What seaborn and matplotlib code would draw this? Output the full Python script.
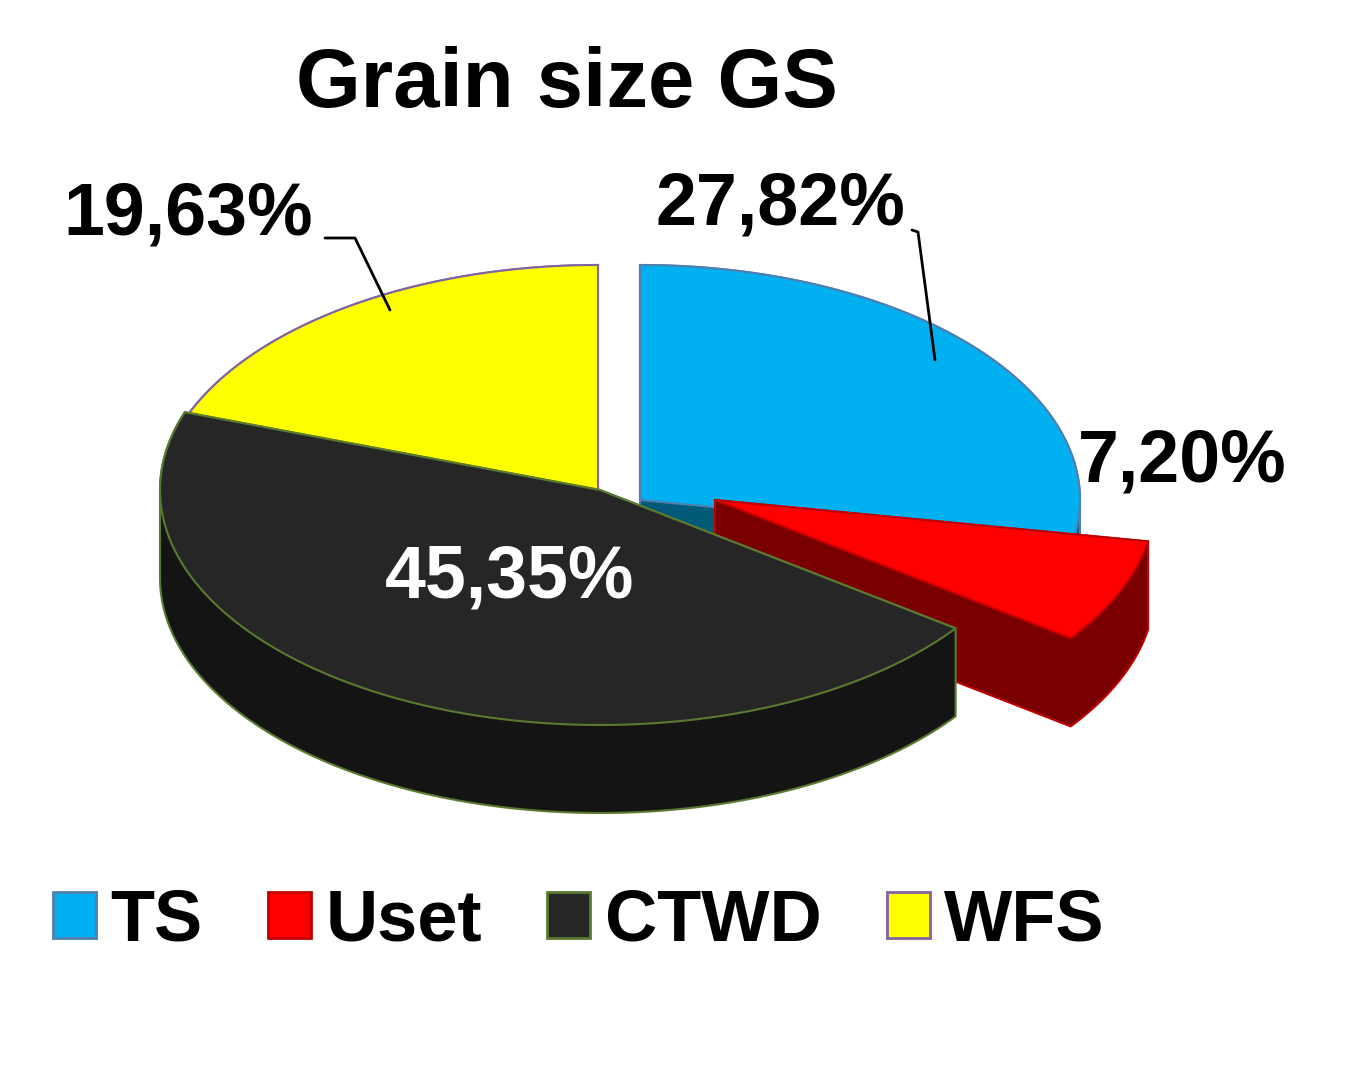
import numpy as np
import matplotlib
matplotlib.use('Agg')
import matplotlib.pyplot as plt
from matplotlib.patches import Polygon, Patch
import seaborn as sns

sns.set_style('white')
plt.rcParams['font.family'] = ['Liberation Sans', 'DejaVu Sans']
plt.rcParams['text.color'] = 'black'

labels = ['TS', 'Uset', 'CTWD', 'WFS']
values = [27.82, 7.20, 45.35, 19.63]
top_colors = ['#00b0f0', '#ff0000', '#262626', '#ffff00']
side_colors = ['#005a78', '#7a0000', '#141414', '#6e6e00']
edge_colors = ['#4f7fb0', '#c00000', '#5a7a30', '#8064a2']
explode = [(20, 10), (95, 10), (-20, 0), (-22, 10)]

CX, CY, RX, RY, DEPTH = 620, 490, 440, 235, 88


def hull(pts):
    pts = sorted(set(map(tuple, pts)))
    def cross(o, a, b):
        return (a[0]-o[0])*(b[1]-o[1]) - (a[1]-o[1])*(b[0]-o[0])
    lower, upper = [], []
    for p in pts:
        while len(lower) >= 2 and cross(lower[-2], lower[-1], p) <= 0:
            lower.pop()
        lower.append(p)
    for p in reversed(pts):
        while len(upper) >= 2 and cross(upper[-2], upper[-1], p) <= 0:
            upper.pop()
        upper.append(p)
    return np.array(lower[:-1] + upper[:-1])


fig = plt.figure(figsize=(13.46, 10.84), dpi=100)
ax = fig.add_axes([0, 0, 1, 1])
ax.set_xlim(0, 1346)
ax.set_ylim(1084, 0)
ax.axis('off')

fracs = np.array(values) / sum(values)
starts = 90 - 360 * np.concatenate([[0], np.cumsum(fracs)[:-1]])
ends = starts - 360 * fracs
wedges = []
for i in range(len(values)):
    t = np.radians(np.linspace(starts[i], ends[i], 120))
    ox, oy = CX + explode[i][0], CY + explode[i][1]
    xs = np.concatenate([[ox], ox + RX * np.cos(t)])
    ys = np.concatenate([[oy], oy - RY * np.sin(t)])
    wedges.append(np.column_stack([xs, ys]))

mids = (starts + ends) / 2
order = np.argsort(-np.sin(np.radians(mids)))
for i in order:
    top = wedges[i]
    bot = top + [0, DEPTH]
    ax.add_patch(Polygon(hull(np.vstack([top, bot])), closed=True,
                         facecolor=side_colors[i], edgecolor=edge_colors[i], lw=1.5))
    ax.add_patch(Polygon(top, closed=True, facecolor=top_colors[i],
                         edgecolor=edge_colors[i], lw=1.5))

ax.text(567, 85, 'Grain size GS', ha='center', va='center', fontsize=60, fontweight='bold')
ax.text(780, 205, '27,82%', ha='center', va='center', fontsize=53, fontweight='bold')
ax.text(1182, 462, '7,20%', ha='center', va='center', fontsize=53, fontweight='bold')
ax.text(510, 578, '45,35%', ha='center', va='center', fontsize=53, fontweight='bold', color='white')
ax.text(188, 215, '19,63%', ha='center', va='center', fontsize=53, fontweight='bold')
ax.plot([325, 355, 390], [238, 238, 310], color='black', lw=2)
ax.plot([912, 918, 935], [230, 232, 360], color='black', lw=2)

handles = [Patch(facecolor=top_colors[i], edgecolor=edge_colors[i], lw=2) for i in range(len(labels))]
ax.legend(handles, labels, loc='center', bbox_to_anchor=(0.43, 0.15), ncol=4,
          frameon=False, prop={'size': 52, 'weight': 'bold'},
          handlelength=0.6, handleheight=0.6, handletextpad=0.2, columnspacing=0.9)

fig.savefig('out.png', dpi=100)
